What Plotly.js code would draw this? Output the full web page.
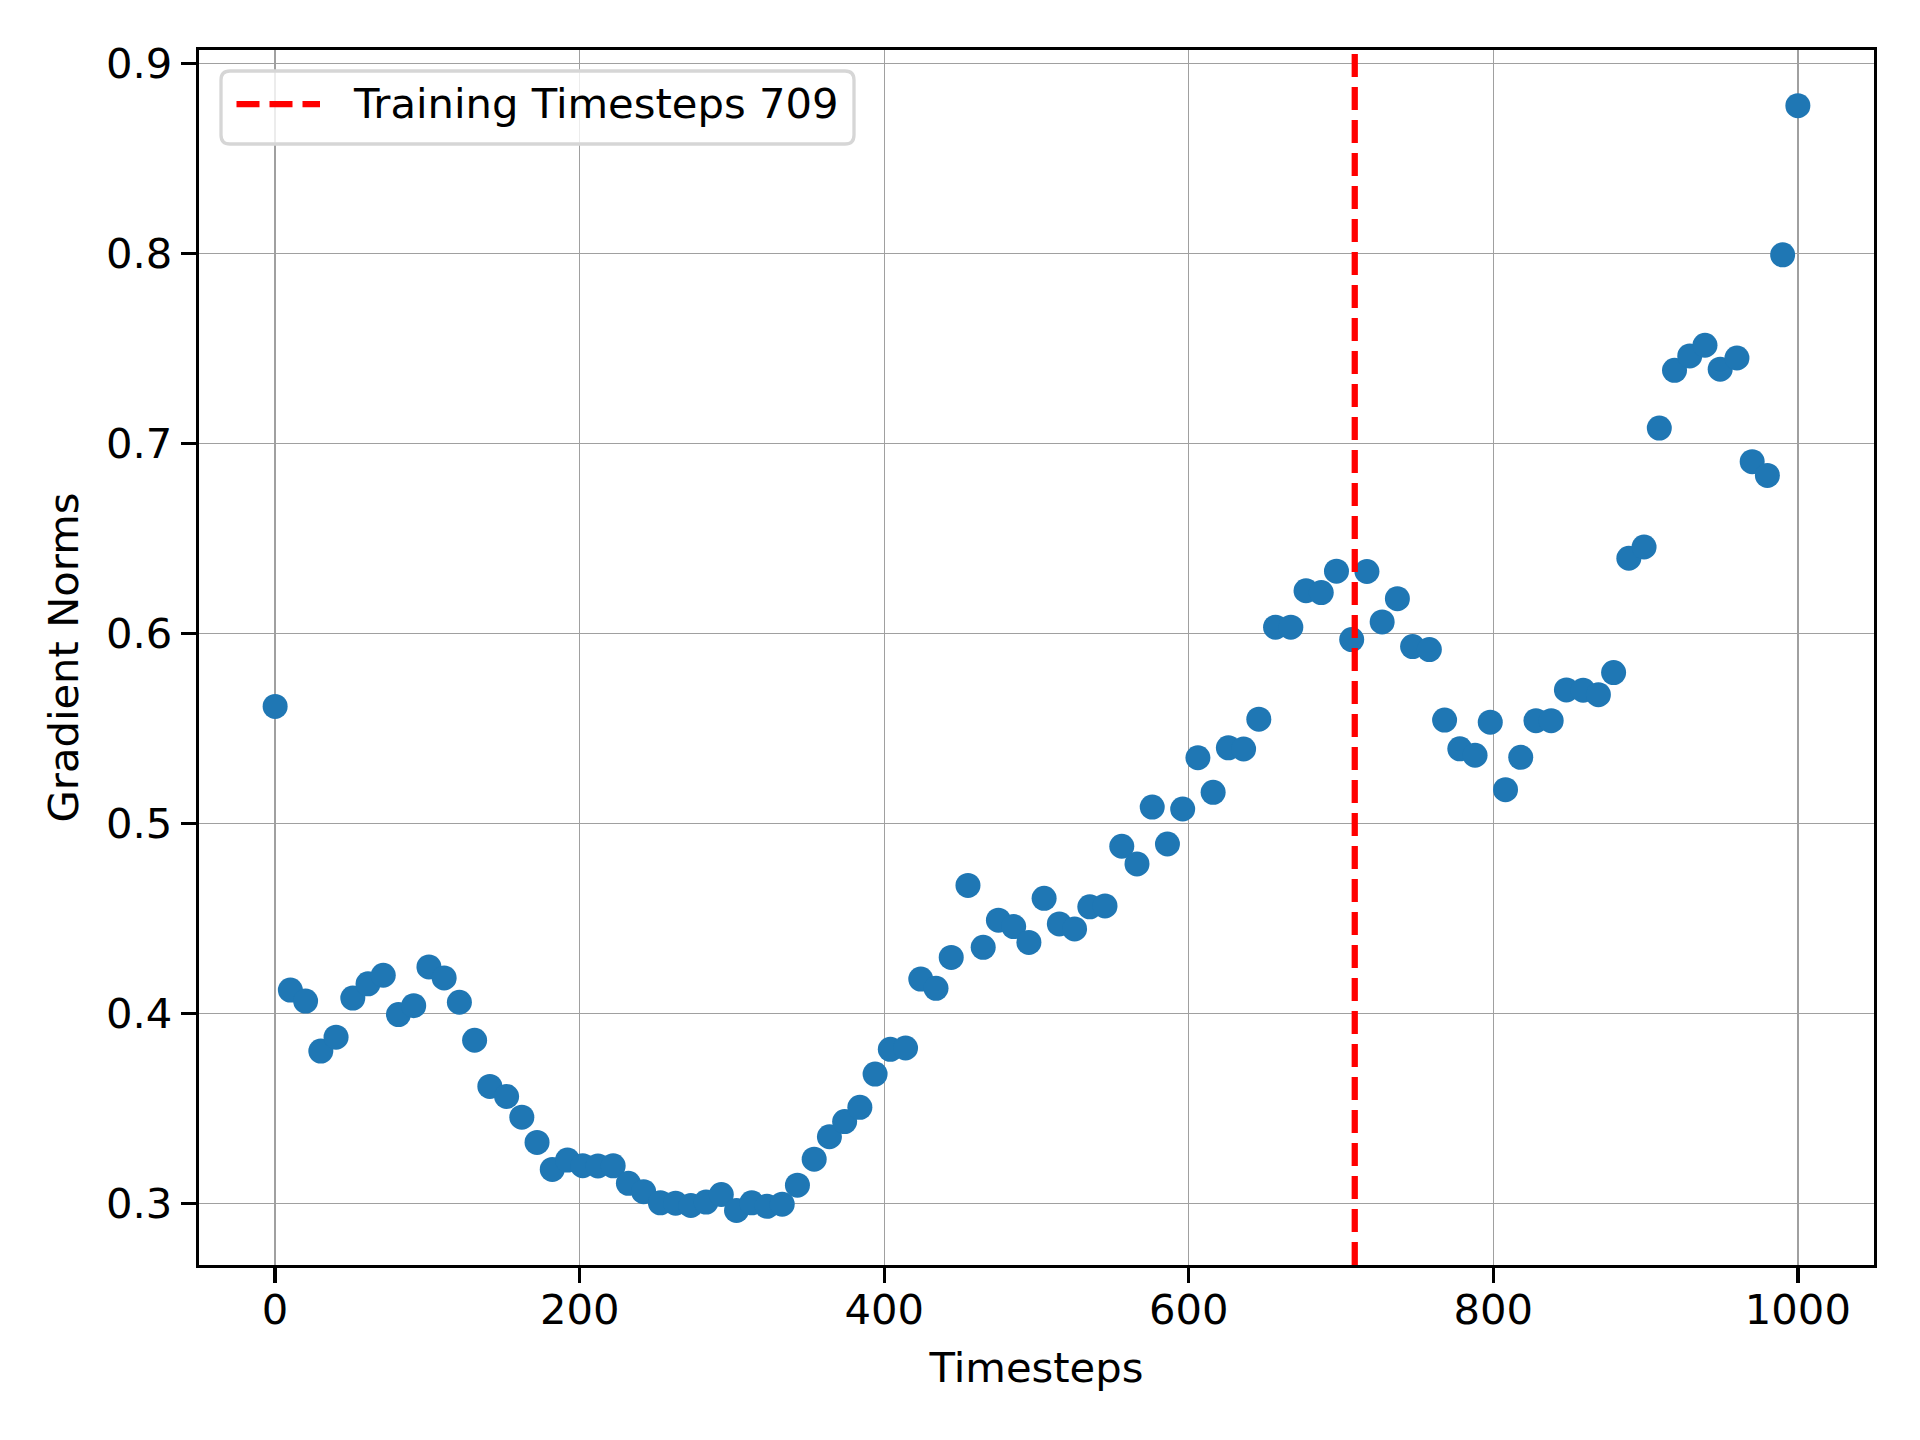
<!DOCTYPE html>
<html>
<head>
<meta charset="utf-8">
<script src="https://cdn.plot.ly/plotly-3.0.1.min.js"></script>
<style>
  html, body { margin: 0; padding: 0; background: #ffffff; }
  #gradientNorms { width: 1920px; height: 1440px; }
</style>
</head>
<body>
<div id="gradientNorms"></div>
<script>
// timesteps at which the gradient norm was measured
var timesteps = [
  0, 10, 20, 30, 40, 51, 61, 71, 81, 91,
  101, 111, 121, 131, 141, 152, 162, 172, 182, 192,
  202, 212, 222, 232, 242, 253, 263, 273, 283, 293,
  303, 313, 323, 333, 343, 354, 364, 374, 384, 394,
  404, 414, 424, 434, 444, 455, 465, 475, 485, 495,
  505, 515, 525, 535, 545, 556, 566, 576, 586, 596,
  606, 616, 626, 636, 646, 657, 667, 677, 687, 697,
  707, 717, 727, 737, 747, 758, 768, 778, 788, 798,
  808, 818, 828, 838, 848, 859, 869, 879, 889, 899,
  909, 919, 929, 939, 949, 960, 970, 980, 990, 1000
];

var gradientNorms = [
  0.5615, 0.4122, 0.4064, 0.3801, 0.3874, 0.4080, 0.4155, 0.4200, 0.3993, 0.4040,
  0.4244, 0.4186, 0.4058, 0.3858, 0.3615, 0.3562, 0.3453, 0.3320, 0.3178, 0.3227,
  0.3198, 0.3196, 0.3197, 0.3105, 0.3061, 0.3002, 0.3000, 0.2988, 0.3006, 0.3046,
  0.2962, 0.3002, 0.2984, 0.2995, 0.3095, 0.3232, 0.3350, 0.3430, 0.3505, 0.3680,
  0.3810, 0.3817, 0.4180, 0.4131, 0.4294, 0.4673, 0.4347, 0.4490, 0.4456, 0.4373,
  0.4605, 0.4470, 0.4444, 0.4560, 0.4565, 0.4879, 0.4786, 0.5085, 0.4891, 0.5075,
  0.5345, 0.5163, 0.5397, 0.5391, 0.5548, 0.6032, 0.6032, 0.6224, 0.6214, 0.6327,
  0.5967, 0.6325, 0.6060, 0.6182, 0.5930, 0.5914, 0.5543, 0.5392, 0.5358, 0.5532,
  0.5177, 0.5347, 0.5540, 0.5540, 0.5702, 0.5700, 0.5677, 0.5793, 0.6395, 0.6454,
  0.7080, 0.7384, 0.7460, 0.7516, 0.7390, 0.7449, 0.6903, 0.6831, 0.7992, 0.8777
];

var trainingTimestep = 709;
var legendLabel = "Training Timesteps " + trainingTimestep;

var xTickValues = [0, 200, 400, 600, 800, 1000];
var yTickValues = [0.3, 0.4, 0.5, 0.6, 0.7, 0.8, 0.9];

function plotGradientNorms() {
  var W = 1920, H = 1440;
  var m = { l: 199, r: 46, t: 50, b: 175 };
  var pw = W - m.l - m.r;
  var ph = H - m.t - m.b;
  // pixel position on the page -> paper fraction of the plot area
  function px(x) { return (x - m.l) / pw; }
  function py(y) { return 1 - (y - m.t) / ph; }

  var fontFamily = "DejaVu Sans, Verdana, sans-serif";
  var fs = 41.7;

  var scatter = {
    x: timesteps,
    y: gradientNorms,
    mode: "markers",
    type: "scatter",
    marker: { color: "#1f77b4", size: 25, line: { width: 0 } },
    showlegend: false,
    cliponaxis: false
  };

  // rounded legend frame, built in paper units
  var bx0 = px(221), bx1 = px(854), by0 = py(144), by1 = py(71);
  var rx = 9 / pw, ry = 9 / ph;
  var framePath =
    "M" + (bx0 + rx) + "," + by1 +
    " L" + (bx1 - rx) + "," + by1 +
    " Q" + bx1 + "," + by1 + " " + bx1 + "," + (by1 - ry) +
    " L" + bx1 + "," + (by0 + ry) +
    " Q" + bx1 + "," + by0 + " " + (bx1 - rx) + "," + by0 +
    " L" + (bx0 + rx) + "," + by0 +
    " Q" + bx0 + "," + by0 + " " + bx0 + "," + (by0 + ry) +
    " L" + bx0 + "," + (by1 - ry) +
    " Q" + bx0 + "," + by1 + " " + (bx0 + rx) + "," + by1 + " Z";

  var axisCommon = {
    showline: true,
    mirror: true,
    linecolor: "#000000",
    linewidth: 3.3,
    ticks: "outside",
    ticklen: 15,
    tickwidth: 3.3,
    tickcolor: "#000000",
    showgrid: true,
    gridcolor: "#a0a0a0",
    gridwidth: 1.3,
    zeroline: false,
    tickfont: { family: fontFamily, size: fs, color: "#000000" }
  };

  var layout = {
    width: W,
    height: H,
    margin: m,
    paper_bgcolor: "#ffffff",
    plot_bgcolor: "#ffffff",
    font: { family: fontFamily, size: fs, color: "#000000" },
    showlegend: false,
    xaxis: Object.assign({}, axisCommon, {
      range: [-50, 1050],
      tickvals: xTickValues,
      ticktext: xTickValues.map(String),
      ticklabelstandoff: -9,
      automargin: false,
      title: {
        text: "Timesteps",
        font: { family: fontFamily, size: fs, color: "#000000" },
        standoff: 20
      }
    }),
    yaxis: Object.assign({}, axisCommon, {
      range: [0.2675, 0.907],
      tickvals: yTickValues,
      ticktext: yTickValues.map(function (v) { return v.toFixed(1); }),
      automargin: false,
      title: {
        text: "Gradient Norms",
        font: { family: fontFamily, size: fs, color: "#000000" },
        standoff: 15
      }
    }),
    shapes: [
      {
        type: "line",
        xref: "x", yref: "paper",
        x0: trainingTimestep, x1: trainingTimestep, y0: 0, y1: 1,
        line: { color: "#ff0000", width: 6.25, dash: "23px,10px" },
        layer: "above"
      },
      {
        type: "path",
        xref: "paper", yref: "paper",
        path: framePath,
        fillcolor: "rgba(255,255,255,0.8)",
        line: { color: "#d6d6d6", width: 3.3 },
        layer: "above"
      },
      {
        type: "line",
        xref: "paper", yref: "paper",
        x0: px(236.5), x1: px(320), y0: py(104), y1: py(104),
        line: { color: "#ff0000", width: 6.25, dash: "23px,10px" },
        layer: "above"
      }
    ],
    annotations: [
      {
        xref: "paper", yref: "paper",
        x: px(351), y: py(104),
        xanchor: "left", yanchor: "middle",
        text: legendLabel,
        showarrow: false,
        font: { family: fontFamily, size: fs, color: "#000000" }
      }
    ]
  };

  Plotly.newPlot("gradientNorms", [scatter], layout, { staticPlot: true, displayModeBar: false });
}
plotGradientNorms();
</script>
</body>
</html>
